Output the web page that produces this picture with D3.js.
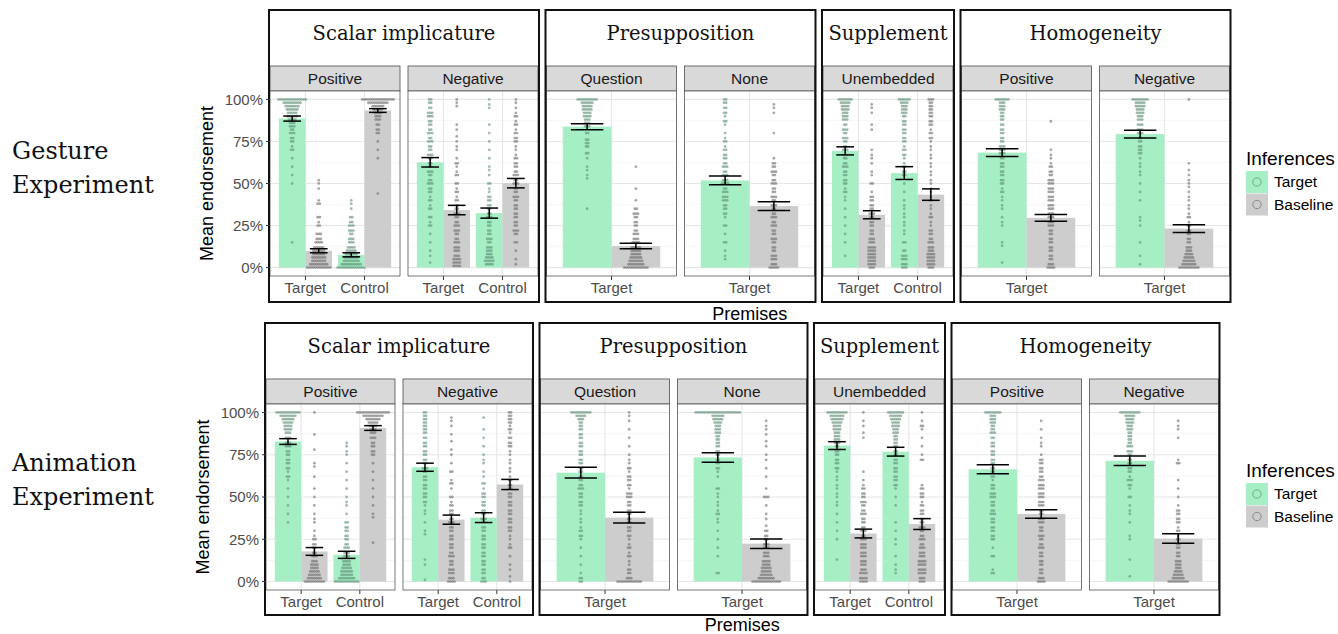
<!DOCTYPE html>
<html><head><meta charset="utf-8">
<script src="https://cdn.jsdelivr.net/npm/d3@7"></script>
<style>body{margin:0;background:#fff}</style></head>
<body><svg id="c" width="1338" height="634"></svg>
<script>
// ---------- data ----------
const experiments = [["Gesture","Experiment"],["Animation","Experiment"]];
const phenomena = ["Scalar implicature","Presupposition","Supplement","Homogeneity"];
const panelLabels = [["Positive","Negative"],["Question","None"],["Unembedded"],["Positive","Negative"]];
const premiseCats = [["Target","Control"],["Target"],["Target","Control"],["Target"]];
const inferences = ["Target","Baseline"];
const yTicks = [0,25,50,75,100];
const yTickLabels = ["0%","25%","50%","75%","100%"];

// bar order: panel by panel, premise by premise, [Target, Baseline]
const gestureMeans = [88.6,10.0,7.6,93.4, 62.6,34.2,32.4,50.2, 83.8,12.8, 51.8,36.6, 69.4,31.4,56.2,43.4, 68.4,29.6, 79.4,23.2];
const gestureSE    = [1.5,1.2,1.2,1.1, 2.8,2.8,3.0,2.8, 1.8,1.6, 2.6,2.6, 2.4,2.4,3.8,3.4, 2.3,2.0, 2.3,2.3];
const animMeans    = [82.8,17.8,15.8,90.8, 67.6,36.6,37.8,57.4, 64.4,37.8, 73.4,22.4, 80.4,28.4,76.8,34.0, 66.4,40.0, 71.4,25.4];
const animSE       = [1.7,2.3,2.1,1.4, 2.4,2.7,2.9,3.0, 3.2,3.2, 2.8,2.8, 2.3,2.6,2.6,3.2, 2.7,2.5, 2.8,2.8];

// individual responses: [value, count]
const gestureDots = [
 [[100,14],[98,9],[96,7],[94,6],[92,5],[90,5],[88,4],[86,3],[84,3],[82,2],[80,3],[77,2],[75,2],[72,1],[70,2],[65,1],[60,1],[55,1],[50,1],[15,1]],
 [[52,1],[50,1],[47,1],[40,1],[38,2],[30,2],[27,1],[25,2],[20,3],[17,3],[15,4],[12,5],[10,6],[8,6],[6,7],[4,7],[2,9],[0,12]],
 [[40,1],[38,1],[35,1],[30,2],[27,2],[25,3],[22,3],[20,2],[17,3],[15,3],[12,4],[10,5],[8,6],[6,7],[4,8],[2,10],[0,14]],
 [[100,16],[98,10],[96,6],[94,5],[92,4],[90,3],[88,3],[85,2],[82,2],[80,2],[75,1],[70,1],[65,1],[44,1]],
 [[100,2],[98,2],[95,2],[92,3],[90,3],[87,2],[85,2],[82,2],[80,3],[77,2],[75,3],[72,2],[70,2],[67,3],[65,2],[62,2],[60,2],[57,3],[55,2],[52,2],[50,3],[47,2],[45,2],[42,1],[40,2],[37,1],[35,2],[30,2],[27,1],[25,2],[20,1],[15,1],[10,1],[7,1],[3,1]],
 [[100,1],[98,1],[96,1],[85,1],[82,1],[78,1],[75,1],[72,1],[70,1],[65,1],[62,2],[60,1],[57,1],[55,2],[50,2],[47,1],[45,2],[42,1],[40,2],[37,2],[35,2],[32,3],[30,2],[27,2],[25,3],[22,3],[20,2],[17,2],[15,3],[12,3],[10,3],[7,3],[5,4],[3,4],[1,4]],
 [[100,1],[97,1],[95,1],[85,1],[80,1],[75,1],[70,1],[65,1],[60,1],[58,1],[55,1],[50,2],[47,1],[45,1],[42,2],[40,2],[37,2],[35,2],[32,2],[30,3],[27,2],[25,2],[22,2],[20,2],[17,3],[15,2],[12,3],[10,3],[8,3],[6,4],[4,5],[2,4]],
 [[100,1],[98,1],[95,1],[92,1],[90,2],[87,1],[85,2],[82,1],[80,2],[77,2],[75,2],[72,1],[70,1],[67,1],[65,2],[62,2],[60,2],[57,2],[55,3],[52,2],[50,3],[47,2],[45,2],[42,3],[40,2],[37,2],[35,2],[32,2],[30,2],[27,2],[25,2],[22,3],[20,2],[15,2],[10,1],[5,1],[2,1]],
 [[100,10],[98,6],[96,5],[94,5],[92,4],[90,4],[88,3],[86,3],[84,3],[80,2],[76,2],[74,2],[72,2],[68,2],[65,1],[60,1],[58,1],[55,1],[53,1],[35,1]],
 [[60,1],[47,1],[40,1],[35,2],[32,3],[30,2],[27,2],[25,2],[22,2],[20,3],[17,3],[15,4],[12,5],[10,5],[8,5],[6,6],[4,7],[2,8],[0,12]],
 [[100,2],[98,2],[95,2],[92,2],[90,1],[87,2],[85,1],[80,1],[77,1],[75,2],[72,1],[70,2],[67,2],[65,2],[62,2],[60,3],[57,2],[55,3],[52,3],[50,4],[47,2],[45,3],[42,3],[40,3],[37,2],[35,2],[32,2],[30,1],[25,2],[20,1],[15,2],[10,1],[7,1],[5,1]],
 [[97,1],[95,1],[92,1],[80,1],[65,1],[62,2],[60,2],[57,3],[55,2],[52,2],[50,3],[47,2],[45,2],[42,3],[40,2],[37,3],[35,2],[32,2],[30,3],[27,2],[25,3],[22,2],[20,2],[17,3],[15,2],[12,2],[10,2],[7,3],[5,3],[2,3],[0,5]],
 [[100,7],[98,5],[96,4],[94,4],[92,3],[90,3],[88,3],[85,2],[82,3],[80,2],[77,3],[75,2],[72,2],[70,3],[67,2],[65,2],[62,2],[60,3],[57,2],[55,2],[52,2],[50,2],[47,1],[45,2],[42,1],[40,1],[35,1],[30,1],[25,1],[20,1],[15,1],[7,1]],
 [[97,1],[95,1],[92,1],[85,1],[82,1],[70,1],[67,1],[65,1],[62,1],[57,1],[55,1],[50,2],[45,1],[42,2],[40,2],[37,2],[35,2],[32,3],[30,2],[27,2],[25,2],[22,2],[20,2],[17,3],[15,3],[12,4],[10,4],[8,4],[6,4],[4,4],[2,4],[0,3]],
 [[100,6],[98,4],[96,3],[94,3],[92,3],[90,2],[87,2],[85,2],[82,2],[80,2],[77,2],[75,2],[72,1],[70,2],[67,2],[65,1],[62,1],[60,2],[57,2],[55,2],[50,1],[45,1],[40,1],[37,1],[35,1],[32,1],[30,1],[27,1],[25,1],[22,1],[20,1],[15,2],[10,2],[7,3],[5,3],[2,3],[0,3]],
 [[100,3],[98,2],[96,2],[94,2],[92,2],[90,2],[87,2],[85,2],[82,1],[80,2],[77,2],[75,1],[72,1],[70,1],[67,1],[65,1],[62,1],[60,1],[57,1],[55,1],[52,1],[50,1],[47,1],[45,1],[42,1],[40,2],[37,1],[35,1],[32,1],[30,2],[27,1],[25,1],[22,2],[20,2],[17,2],[15,3],[12,3],[10,3],[8,4],[6,4],[4,4],[2,4],[0,3]],
 [[100,7],[98,3],[96,3],[94,3],[92,2],[90,2],[88,2],[85,2],[82,2],[80,2],[77,2],[75,2],[72,3],[70,3],[68,3],[65,2],[62,2],[60,2],[57,2],[55,2],[52,2],[50,2],[47,1],[45,2],[42,1],[40,1],[37,1],[35,1],[30,1],[27,1],[25,1],[15,1],[13,1],[3,1]],
 [[87,1],[70,1],[67,1],[65,1],[62,1],[60,2],[57,2],[55,2],[52,3],[50,3],[47,3],[45,3],[42,3],[40,3],[37,3],[35,3],[32,3],[30,3],[27,3],[25,3],[22,2],[20,2],[17,2],[15,2],[12,2],[10,2],[7,2],[5,2],[2,3],[0,4]],
 [[100,8],[98,5],[96,5],[94,4],[92,4],[90,3],[88,3],[85,3],[82,3],[80,3],[77,2],[75,2],[72,2],[70,2],[68,2],[65,1],[62,1],[60,1],[57,1],[55,1],[50,1],[45,1],[40,1],[30,1],[28,1],[25,1],[15,1],[7,1],[2,1]],
 [[100,1],[62,1],[58,1],[55,1],[52,1],[50,1],[48,1],[45,1],[42,1],[40,1],[37,1],[35,1],[32,1],[30,2],[27,1],[25,2],[22,2],[20,2],[17,2],[15,2],[12,3],[10,3],[8,4],[6,5],[4,6],[2,7],[0,10]]
];
const animDots = [
 [[100,12],[98,8],[96,6],[94,5],[92,4],[90,4],[88,3],[85,3],[82,3],[80,3],[77,2],[75,2],[72,2],[70,2],[67,2],[65,1],[62,2],[60,1],[55,1],[50,1],[45,1],[40,1],[35,1]],
 [[100,1],[87,1],[78,1],[70,1],[68,1],[62,1],[55,1],[50,1],[45,1],[40,1],[37,1],[35,1],[30,1],[27,1],[25,2],[22,2],[20,2],[17,2],[15,3],[12,3],[10,4],[8,4],[6,5],[4,6],[2,7],[0,10]],
 [[82,1],[80,1],[77,1],[75,1],[70,1],[65,1],[60,1],[55,1],[50,1],[47,1],[45,1],[40,1],[35,2],[32,2],[30,2],[27,2],[25,2],[22,2],[20,3],[17,3],[15,3],[12,4],[10,4],[8,5],[6,6],[4,6],[2,8],[0,12]],
 [[100,16],[98,10],[96,7],[94,5],[92,4],[90,3],[88,3],[85,3],[82,2],[80,2],[77,2],[75,2],[70,1],[65,1],[60,1],[55,1],[50,1],[45,1],[40,1],[38,1],[23,1]],
 [[100,2],[98,2],[96,2],[94,2],[92,2],[90,2],[88,2],[85,2],[82,2],[80,2],[77,2],[75,2],[72,2],[70,2],[67,3],[65,2],[62,2],[60,2],[57,2],[55,2],[52,2],[50,2],[47,2],[45,1],[42,1],[40,1],[35,1],[30,1],[28,1],[13,1],[10,1],[1,1]],
 [[97,1],[95,1],[92,1],[87,1],[83,1],[78,1],[75,1],[70,1],[65,2],[60,1],[58,2],[55,1],[50,2],[47,1],[45,2],[42,2],[40,2],[37,2],[35,3],[32,2],[30,2],[27,2],[25,2],[22,2],[20,2],[17,2],[15,3],[12,2],[10,2],[7,3],[5,3],[2,3],[0,4]],
 [[97,1],[90,1],[85,1],[80,1],[75,1],[72,1],[70,1],[65,1],[62,1],[58,2],[55,1],[52,2],[50,2],[47,2],[45,2],[42,2],[40,2],[37,3],[35,2],[32,2],[30,2],[27,2],[25,2],[22,2],[20,2],[17,2],[15,2],[12,2],[10,2],[7,2],[5,2],[2,2],[0,3]],
 [[100,2],[98,2],[96,2],[94,2],[92,1],[90,2],[88,1],[85,2],[82,2],[80,2],[77,1],[75,1],[72,1],[70,1],[67,1],[65,1],[62,1],[60,2],[57,2],[55,2],[52,2],[50,2],[47,2],[45,2],[42,2],[40,2],[37,2],[35,2],[32,2],[30,2],[27,1],[25,1],[22,1],[20,2],[15,1],[10,1],[7,1],[3,1],[0,1]],
 [[100,10],[98,5],[96,3],[94,2],[92,2],[90,2],[87,2],[85,2],[82,2],[80,2],[77,2],[75,2],[72,2],[70,2],[67,2],[65,2],[62,2],[60,2],[57,2],[55,3],[52,2],[50,2],[47,2],[45,2],[42,1],[40,1],[37,1],[35,1],[32,1],[30,2],[27,2],[25,1],[20,1],[15,1],[10,1],[5,1],[2,2],[0,2]],
 [[100,1],[98,1],[95,1],[90,1],[85,1],[80,1],[75,1],[72,1],[70,1],[67,2],[65,1],[62,2],[60,2],[57,2],[55,1],[52,3],[50,3],[47,2],[45,2],[42,2],[40,2],[37,2],[35,2],[32,2],[30,2],[27,2],[25,1],[22,1],[20,2],[17,1],[15,2],[12,1],[10,1],[7,2],[5,2],[2,3],[0,12]],
 [[100,22],[98,6],[96,5],[94,4],[92,3],[90,3],[88,3],[86,2],[84,2],[82,2],[80,2],[77,2],[75,2],[72,2],[70,2],[67,2],[65,1],[62,1],[55,2],[52,1],[50,1],[47,1],[45,1],[42,1],[40,2],[37,1],[35,1],[30,1],[25,1],[20,1],[15,1],[5,2]],
 [[95,1],[92,1],[90,1],[87,1],[83,1],[80,1],[75,1],[72,1],[67,1],[62,1],[55,1],[50,3],[45,1],[40,1],[37,1],[33,1],[30,2],[27,2],[25,2],[22,3],[20,3],[17,3],[15,3],[12,4],[10,4],[8,5],[6,5],[4,6],[2,8],[0,14]],
 [[100,10],[98,7],[96,6],[94,5],[92,4],[90,4],[88,3],[86,3],[84,3],[82,3],[80,2],[77,2],[75,2],[72,2],[70,2],[67,2],[65,1],[62,1],[60,1],[57,1],[55,1],[52,1],[50,1],[47,1],[45,1],[40,1],[35,1],[30,1],[25,1],[13,1]],
 [[100,1],[95,1],[92,1],[88,1],[85,1],[65,1],[60,1],[57,1],[55,2],[52,2],[50,2],[47,3],[45,2],[42,2],[40,3],[37,2],[35,2],[32,2],[30,3],[27,2],[25,3],[22,3],[20,3],[17,3],[15,3],[12,3],[10,3],[7,3],[5,4],[2,4],[0,4]],
 [[100,8],[98,6],[96,5],[94,4],[92,4],[90,3],[88,3],[86,2],[84,2],[82,2],[80,2],[77,2],[75,2],[72,2],[70,2],[67,2],[65,2],[62,2],[60,2],[57,2],[55,1],[50,1],[45,1],[35,1],[30,1],[25,1],[22,1],[15,1],[10,1],[7,1],[5,1]],
 [[100,1],[95,1],[92,2],[90,1],[85,1],[80,1],[75,1],[72,2],[57,1],[55,2],[52,2],[50,2],[47,1],[45,2],[42,2],[40,2],[37,2],[35,2],[32,3],[30,2],[27,2],[25,3],[22,2],[20,3],[17,3],[15,3],[12,4],[10,4],[7,4],[5,4],[2,3],[0,3]],
 [[100,8],[98,3],[96,3],[94,3],[92,2],[90,2],[88,3],[85,2],[82,2],[80,2],[77,2],[75,2],[72,2],[70,2],[67,2],[65,2],[62,2],[60,1],[57,2],[55,2],[52,3],[50,3],[47,2],[45,2],[42,2],[40,3],[37,2],[35,2],[32,2],[30,2],[27,2],[25,2],[20,1],[15,2],[7,1],[5,2]],
 [[95,1],[90,1],[85,1],[82,1],[80,1],[75,1],[72,2],[70,2],[67,2],[65,2],[62,2],[60,3],[57,3],[55,3],[52,3],[50,3],[47,3],[45,3],[42,2],[40,2],[37,3],[35,3],[32,2],[30,2],[27,3],[25,2],[22,2],[20,3],[17,2],[15,2],[12,2],[10,2],[7,2],[5,2],[2,3],[0,4]],
 [[100,10],[98,5],[96,4],[94,4],[92,3],[90,3],[88,2],[86,2],[84,2],[82,2],[80,3],[77,3],[75,2],[72,2],[70,2],[67,2],[65,2],[62,1],[60,3],[57,2],[55,1],[50,2],[45,1],[42,1],[40,1],[35,1],[27,1],[25,1],[13,1],[3,1]],
 [[95,1],[92,1],[90,1],[85,1],[72,1],[70,2],[60,1],[55,1],[50,1],[45,1],[42,2],[40,2],[37,2],[35,2],[32,1],[30,2],[27,1],[25,2],[22,2],[20,2],[17,2],[15,2],[12,3],[10,3],[8,3],[6,4],[4,5],[2,6],[0,10]]
];

// ---------- drawing ----------
const barFill = {Target:"#a6efc5", Baseline:"#cdcdcd"};
const dotFill = {Target:"#5f8f76", Baseline:"#6c6c6c"};
const SANS = "'Liberation Sans', Arial, sans-serif";
const SERIF = "'DejaVu Serif', serif";

const svg = d3.select("#c");
const rows = [
  {x0:269, pw:130, boxTop:10, stripTop:66, stripBot:91, panelBot:276, boxBot:302, premY:320, labY:[159,193], legY:165,
   means:gestureMeans, se:gestureSE, dots:gestureDots},
  {x0:265, pw:129, boxTop:323, stripTop:379, stripBot:404, panelBot:590, boxBot:615, premY:631, labY:[471,505], legY:477,
   means:animMeans, se:animSE, dots:animDots}
];

rows.forEach((row, r) => {
  const g = svg.append("g");
  const y = d3.scaleLinear().domain([-5,105]).range([row.panelBot, row.stripBot]);
  let bx = row.x0;
  let idx = 0;
  let firstPanelX = null;
  const boxExtents = [];
  phenomena.forEach((ph, p) => {
    const n = panelLabels[p].length;
    const bw = n*row.pw + (n-1)*8 + 2;
    boxExtents.push([bx, bx+bw]);
    g.append("text").attr("x", bx + bw/2).attr("y", row.boxTop + 30)
      .attr("text-anchor","middle").attr("font-family",SERIF).attr("font-size",19.5)
      .attr("fill","#111").text(ph);
    const cats = premiseCats[p];
    panelLabels[p].forEach((pl, j) => {
      const px0 = bx + 1 + j*(row.pw+8), px1 = px0 + row.pw;
      if (firstPanelX === null) firstPanelX = px0;
      g.append("rect").attr("x",px0).attr("y",row.stripTop).attr("width",row.pw)
        .attr("height",row.stripBot-row.stripTop).attr("fill","#d9d9d9").attr("stroke","#4d4d4d").attr("stroke-width",0.8);
      g.append("text").attr("x",(px0+px1)/2).attr("y",row.stripTop+18)
        .attr("text-anchor","middle").attr("font-family",SANS).attr("font-size",15.5)
        .attr("fill","#1a1a1a").text(pl);
      const x = d3.scaleLinear().domain([0.4, cats.length+0.6]).range([px0, px1]);
      g.append("rect").attr("x",px0).attr("y",row.stripBot).attr("width",row.pw)
        .attr("height",row.panelBot-row.stripBot).attr("fill","#fff");
      const minor = [12.5,37.5,62.5,87.5];
      g.selectAll(null).data(minor).enter().append("line")
        .attr("x1",px0).attr("x2",px1).attr("y1",d=>y(d)).attr("y2",d=>y(d))
        .attr("stroke","#f0f0f0").attr("stroke-width",0.6);
      g.selectAll(null).data(yTicks).enter().append("line")
        .attr("x1",px0).attr("x2",px1).attr("y1",d=>y(d)).attr("y2",d=>y(d))
        .attr("stroke","#e6e6e6").attr("stroke-width",1.1);
      g.selectAll(null).data(cats).enter().append("line")
        .attr("x1",(d,i)=>x(i+1)).attr("x2",(d,i)=>x(i+1)).attr("y1",row.stripBot).attr("y2",row.panelBot)
        .attr("stroke","#e6e6e6").attr("stroke-width",1.1);
      cats.forEach((c, ci) => {
        inferences.forEach((inf, ii) => {
          const m = row.means[idx], s = row.se[idx], dts = row.dots[idx];
          const xl = ci+1 - 0.45 + ii*0.45, xr = xl + 0.45, xc = xl + 0.225;
          g.append("rect").attr("x",x(xl)).attr("width",x(xr)-x(xl))
            .attr("y",y(m)).attr("height",y(0)-y(m)).attr("fill",barFill[inf]);
          const dd = 2.1;
          dts.forEach(([v,cnt]) => {
            for (let k=0;k<cnt;k++){
              g.append("circle").attr("cx", x(xc) + (k-(cnt-1)/2)*dd).attr("cy", y(v))
                .attr("r",1.4).attr("fill",dotFill[inf]).attr("fill-opacity",0.6);
            }
          });
          idx++;
          const eg = g.append("g").attr("stroke","#000").attr("stroke-width",1.5).attr("fill","none");
          eg.append("line").attr("x1",x(xc)).attr("x2",x(xc)).attr("y1",y(m-s)).attr("y2",y(m+s));
          eg.append("line").attr("x1",x(xc-0.15)).attr("x2",x(xc+0.15)).attr("y1",y(m-s)).attr("y2",y(m-s));
          eg.append("line").attr("x1",x(xc-0.15)).attr("x2",x(xc+0.15)).attr("y1",y(m+s)).attr("y2",y(m+s));
        });
        g.append("line").attr("x1",x(ci+1)).attr("x2",x(ci+1)).attr("y1",row.panelBot).attr("y2",row.panelBot+4)
          .attr("stroke","#333").attr("stroke-width",1);
        g.append("text").attr("x",x(ci+1)).attr("y",row.panelBot+17).attr("text-anchor","middle")
          .attr("font-family",SANS).attr("font-size",15).attr("fill","#4d4d4d").text(c);
      });
      g.append("rect").attr("x",px0).attr("y",row.stripBot).attr("width",row.pw)
        .attr("height",row.panelBot-row.stripBot).attr("fill","none").attr("stroke","#555").attr("stroke-width",0.8);
    });
    g.append("rect").attr("x",bx).attr("y",row.boxTop).attr("width",bw).attr("height",row.boxBot-row.boxTop)
      .attr("fill","none").attr("stroke","#111").attr("stroke-width",2);
    bx += bw + 6.5;
  });
  yTicks.forEach((t, i) => {
    g.append("line").attr("x1",firstPanelX-4).attr("x2",firstPanelX).attr("y1",y(t)).attr("y2",y(t))
      .attr("stroke","#333");
    g.append("text").attr("x",firstPanelX-7).attr("y",y(t)).attr("dy","0.35em").attr("text-anchor","end")
      .attr("font-family",SANS).attr("font-size",15).attr("fill","#4d4d4d").text(yTickLabels[i]);
  });
  const ym = (row.stripBot+row.panelBot)/2;
  g.append("text").attr("transform",`translate(${firstPanelX-57},${ym}) rotate(-90)`)
    .attr("text-anchor","middle").attr("font-family",SANS).attr("font-size",18).attr("fill","#000")
    .text("Mean endorsement");
  const cx = (boxExtents[0][0] + boxExtents[3][1])/2;
  g.append("text").attr("x",cx).attr("y",row.premY).attr("text-anchor","middle")
    .attr("font-family",SANS).attr("font-size",18).attr("fill","#000").text("Premises");
  experiments[r].forEach((w, i) => {
    g.append("text").attr("x",12).attr("y",row.labY[i]).attr("font-family",SERIF)
      .attr("font-size",24).attr("fill","#111").text(w);
  });
  const lx = 1246;
  g.append("text").attr("x",lx).attr("y",row.legY).attr("font-family",SANS).attr("font-size",19)
    .attr("fill","#000").text("Inferences");
  inferences.forEach((inf, i) => {
    const ky = row.legY + 6 + i*22.5;
    g.append("rect").attr("x",lx).attr("y",ky).attr("width",22).attr("height",22).attr("fill",barFill[inf]);
    g.append("circle").attr("cx",lx+11).attr("cy",ky+11).attr("r",4.2).attr("fill","none")
      .attr("stroke",dotFill[inf]).attr("stroke-opacity",0.7).attr("stroke-width",1);
    g.append("text").attr("x",lx+28).attr("y",ky+11).attr("dy","0.35em").attr("font-family",SANS)
      .attr("font-size",15.5).attr("fill","#000").text(inf);
  });
});
</script>
</body></html>
